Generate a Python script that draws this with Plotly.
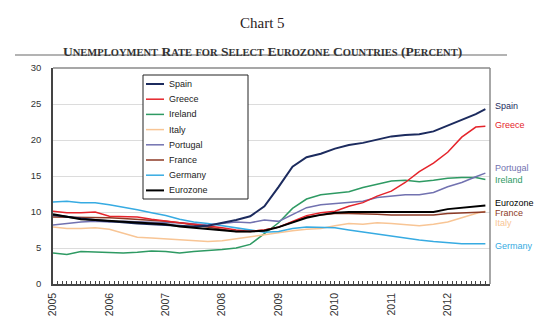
import plotly.graph_objects as go

# Quarterly observations, Jan 2005 through Jul 2012, plus the Sep 2012 reading
dates = [f"{y}-{m:02d}-01" for y in range(2005, 2013) for m in (1, 4, 7, 10)]
dates = [d for d in dates if d <= "2012-07-01"] + ["2012-09-01"]

spain = [9.6, 9.3, 9.1, 8.9, 8.7, 8.6, 8.4, 8.3, 8.2, 8.1, 8.0, 8.1, 8.5, 8.9, 9.4, 10.8,
         13.5, 16.3, 17.6, 18.1, 18.8, 19.3, 19.6, 20.1, 20.5, 20.7, 20.8, 21.2, 22.0, 22.8, 23.6, 24.3]
greece = [10.1, 9.9, 9.9, 10.0, 9.4, 9.3, 9.3, 9.0, 8.7, 8.5, 8.3, 8.1, 7.8, 7.5, 7.3, 7.5,
          7.9, 8.7, 9.5, 9.9, 10.1, 10.8, 11.3, 12.2, 12.9, 14.1, 15.6, 16.8, 18.3, 20.4, 21.8, 21.9]
ireland = [4.3, 4.1, 4.5, 4.4, 4.4, 4.3, 4.4, 4.6, 4.5, 4.3, 4.5, 4.6, 4.8, 5.0, 5.5, 7.0,
           8.5, 10.5, 11.8, 12.4, 12.6, 12.8, 13.4, 13.9, 14.3, 14.4, 14.2, 14.4, 14.7, 14.8, 14.8, 14.5]
italy = [7.9, 7.7, 7.7, 7.8, 7.6, 7.0, 6.5, 6.4, 6.3, 6.2, 6.0, 5.9, 6.0, 6.3, 6.6, 6.9,
         7.2, 7.4, 7.6, 7.7, 8.1, 8.4, 8.3, 8.5, 8.4, 8.2, 8.1, 8.3, 8.6, 9.2, 9.8, 10.1]
portugal = [8.2, 8.4, 8.6, 8.7, 8.6, 8.7, 8.6, 8.6, 8.5, 8.5, 8.3, 8.2, 8.4, 8.6, 8.5, 8.9,
            8.7, 9.6, 10.6, 11.0, 11.2, 11.3, 11.5, 12.0, 12.2, 12.4, 12.4, 12.7, 13.5, 14.1, 14.9, 15.4]
france = [9.3, 9.3, 9.3, 9.3, 9.2, 9.1, 9.0, 8.9, 8.7, 8.5, 8.2, 7.9, 7.6, 7.3, 7.3, 7.5,
          7.9, 8.6, 9.3, 9.6, 9.8, 9.8, 9.8, 9.7, 9.6, 9.6, 9.6, 9.6, 9.8, 9.9, 10.0, 10.0]
germany = [11.4, 11.5, 11.3, 11.3, 11.0, 10.6, 10.3, 9.9, 9.5, 9.0, 8.6, 8.4, 8.1, 7.7, 7.5, 7.2,
           7.3, 7.7, 7.9, 7.9, 7.8, 7.5, 7.2, 6.9, 6.6, 6.3, 6.1, 5.9, 5.7, 5.6, 5.6, 5.6]
eurozone = [9.7, 9.4, 9.0, 8.9, 8.8, 8.6, 8.5, 8.4, 8.3, 8.0, 7.8, 7.6, 7.4, 7.3, 7.3, 7.4,
            7.9, 8.6, 9.2, 9.6, 9.9, 10.0, 10.0, 10.0, 10.0, 9.9, 9.9, 10.0, 10.4, 10.6, 10.8, 10.9]

legend_order = ["Spain", "Greece", "Ireland", "Italy", "Portugal", "France", "Germany", "Eurozone"]
series = {
    "Spain": spain, "Greece": greece, "Ireland": ireland, "Italy": italy,
    "Portugal": portugal, "France": france, "Germany": germany, "Eurozone": eurozone,
}
colors = {
    "Spain": "#1c2b5e", "Greece": "#e5242b", "Ireland": "#2e9a63", "Italy": "#f8c595",
    "Portugal": "#7272b0", "France": "#8c3a26", "Germany": "#37abe2", "Eurozone": "#000000",
}
widths = {"Spain": 2, "Eurozone": 2}
draw_order = ["Ireland", "Italy", "Germany", "Portugal", "France", "Greece", "Spain", "Eurozone"]

# End-of-line labels: (name, y position in percent)
end_labels = [("Spain", 24.7), ("Greece", 22.1), ("Portugal", 16.1), ("Ireland", 14.4),
              ("Eurozone", 11.3), ("France", 9.9), ("Italy", 8.5), ("Germany", 5.3)]

W, H = 555, 321
L, R, T, B = 53, 65, 68, 37
pw, ph = W - L - R, H - T - B


def px(x):
    return (x - L) / pw


def py(y):
    return (H - B - y) / ph


fig = go.Figure()
for name in draw_order:
    fig.add_trace(go.Scatter(
        x=dates, y=series[name], mode="lines", name=name, showlegend=False,
        line=dict(color=colors[name], width=widths.get(name, 1.5)),
    ))

annotations = []
shapes = []

# Headings
annotations.append(dict(text="Chart 5", xref="paper", yref="paper", x=px(262), y=py(13),
                        showarrow=False, font=dict(family="Liberation Serif", size=15, color="#2a1c1c")))


def small_caps(s, big=13, small=10):
    out = []
    for ch in s:
        if ch.islower():
            out.append(f"<span style='font-size:{small}px'>{ch.upper()}</span>")
        else:
            out.append(ch)
    return "".join(out)


annotations.append(dict(
    text="<b>" + small_caps("Unemployment Rate for Select Eurozone Countries (Percent)", 13.5, 10.5) + "</b>",
    xref="paper", yref="paper", x=px(262), y=py(42), showarrow=False,
    font=dict(family="Liberation Serif", size=13.5, color="#333333"),
))
shapes.append(dict(type="line", xref="paper", yref="paper", x0=px(15), x1=px(507),
                   y0=py(55), y1=py(55), line=dict(color="#9a9a9a", width=1.5)))

# Plot frame: grey top and right edges
shapes.append(dict(type="line", xref="paper", yref="paper", x0=0, x1=1, y0=1, y1=1,
                   line=dict(color="#8a8a8a", width=1.5)))
shapes.append(dict(type="line", xref="paper", yref="paper", x0=1, x1=1, y0=0, y1=1,
                   line=dict(color="#8a8a8a", width=1.5)))

# Boxed legend
shapes.append(dict(type="rect", xref="paper", yref="paper", x0=px(143), x1=px(248),
                   y0=py(199), y1=py(75), line=dict(color="#222222", width=1),
                   fillcolor="white", layer="above"))
for i, name in enumerate(legend_order):
    yy = 84 + i * 15.2
    shapes.append(dict(type="line", xref="paper", yref="paper", x0=px(146), x1=px(164),
                       y0=py(yy), y1=py(yy),
                       line=dict(color=colors[name], width=widths.get(name, 1.5)), layer="above"))
    annotations.append(dict(text=name, xref="paper", yref="paper", x=px(167), y=py(yy),
                            xanchor="left", yanchor="middle", showarrow=False,
                            font=dict(family="Liberation Sans", size=9, color="#222222")))

for name, yv in end_labels:
    annotations.append(dict(text=name, xref="paper", yref="y", x=px(493), y=yv,
                            xanchor="left", yanchor="middle", showarrow=False,
                            font=dict(family="Liberation Sans", size=9, color=colors[name])))

fig.update_layout(
    width=W, height=H, margin=dict(l=L, r=R, t=T, b=B),
    paper_bgcolor="white", plot_bgcolor="white",
    annotations=annotations, shapes=shapes, showlegend=False,
    font=dict(family="Liberation Sans", size=9, color="#333333"),
)
fig.update_xaxes(
    type="date", range=["2005-01-01", "2012-10-01"], automargin=False,
    dtick="M12", tick0="2005-01-01", tickformat="%Y", tickangle=-90,
    ticks="inside", ticklen=3, tickcolor="#444444",
    minor=dict(dtick="M1", ticks="inside", ticklen=3, tickcolor="#444444"),
    showgrid=False, showline=True, linecolor="#444444", linewidth=1.5,
    tickfont=dict(size=10.5, color="#333333"), ticklabelstandoff=3,
)
fig.update_yaxes(
    range=[0, 30], dtick=5, showgrid=True, gridcolor="#dcdcdc", gridwidth=1,
    showline=True, linecolor="#444444", linewidth=1.5, zeroline=False, automargin=False,
    ticks="", tickfont=dict(size=9.5, color="#333333"), ticklabelstandoff=8,
)

fig.write_html("out.html")
